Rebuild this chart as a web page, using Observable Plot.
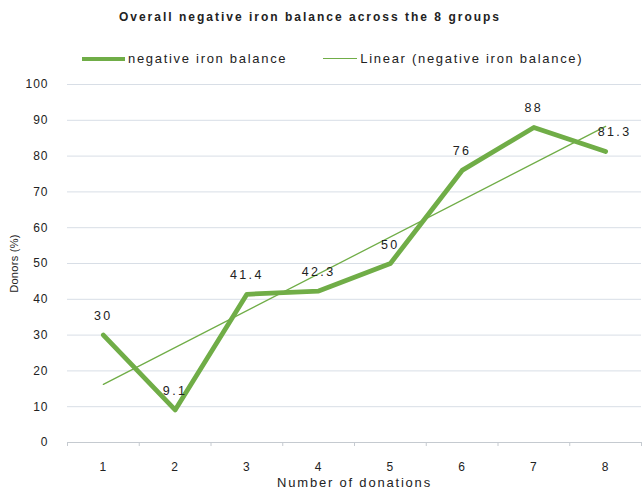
<!DOCTYPE html>
<html>
<head>
<meta charset="utf-8">
<script src="https://cdn.jsdelivr.net/npm/d3@7"></script>
<script src="https://cdn.jsdelivr.net/npm/@observablehq/plot@0.6"></script>
<style>
  html, body { margin: 0; padding: 0; background: #fff; }
  #wrap { position: relative; width: 643px; height: 493px; font-family: "Liberation Sans", Arial, sans-serif; color: #222; }
  #title { position: absolute; left: 0; top: 10px; width: 620px; text-align: center; font-weight: bold; font-size: 12px; letter-spacing: 2px; }
  #legend { position: absolute; left: 82px; top: 51px; display: flex; align-items: center; font-size: 13px; letter-spacing: 1.7px; white-space: nowrap; }
  .sw { display: inline-block; width: 43px; margin-right: 3px; }
  #chart { position: absolute; left: 0; top: 0; }
  g[aria-label="y-axis label"] text { font-size: 11px; letter-spacing: 0.3px; }
  g[aria-label="x-axis label"] text { font-size: 13px; letter-spacing: 1.8px; }
  g[aria-label="text"] text { font-size: 12.5px; letter-spacing: 2.4px; }
</style>
</head>
<body>
<div id="wrap">
  <div id="chart"></div>
  <div id="title">Overall negative iron balance across the 8 groups</div>
  <div id="legend">
    <span class="sw" style="border-top:4px solid #70ad47;"></span><span>negative iron balance</span>
    <span class="sw" style="border-top:1.3px solid #70ad47; margin-left:36px; width:34px;"></span><span>Linear (negative iron balance)</span>
  </div>
</div>
<script>
const groups = [1, 2, 3, 4, 5, 6, 7, 8];
const values = [30, 9.1, 41.4, 42.3, 50, 76, 88, 81.3];
const valueLabels = ["30", "9.1", "41.4", "42.3", "50", "76", "88", "81.3"];
const yTicks = [0, 10, 20, 30, 40, 50, 60, 70, 80, 90, 100];

const green = "#70ad47";
const data = groups.map((g, i) => ({group: g, value: values[i], label: valueLabels[i]}));
const bandEdges = d3.range(groups.length + 1).map(i => groups[0] - 0.5 + i);

const chart = Plot.plot({
  width: 643,
  height: 493,
  marginTop: 84,
  marginBottom: 51,
  marginLeft: 67,
  marginRight: 2,
  style: {fontFamily: "Liberation Sans, Arial, sans-serif", fontSize: "12px", letterSpacing: "1px", color: "#222", background: "transparent"},
  x: {domain: [bandEdges[0], bandEdges[bandEdges.length - 1]]},
  y: {domain: [0, 100]},
  marks: [
    Plot.gridY(yTicks, {stroke: "#d8dee6", strokeOpacity: 1}),
    Plot.ruleY([0], {stroke: "#c5cad0"}),
    Plot.axisY(yTicks, {tickSize: 0, tickPadding: 19, label: "Donors (%)", labelAnchor: "center", labelArrow: "none", labelOffset: 57}),
    Plot.axisX(bandEdges, {tickSize: 4, tickFormat: () => "", stroke: "#c5cad0", label: null}),
    Plot.axisX(groups, {tickSize: 0, tickPadding: 20, tickFormat: d => String(d), label: "Number of donations", labelAnchor: "center", labelArrow: "none", labelOffset: 44}),
    Plot.linearRegressionY(data, {x: "group", y: "value", stroke: green, strokeWidth: 1.3, ci: 0}),
    Plot.line(data, {x: "group", y: "value", stroke: green, strokeWidth: 4.8, strokeLinejoin: "round"}),
    Plot.text(data.slice(0, -1), {x: "group", y: "value", text: "label", dy: -19, fill: "#222"}),
    Plot.text(data.slice(-1), {x: "group", y: "value", text: "label", dy: -19, dx: 9, fill: "#222"})
  ]
});
document.getElementById("chart").appendChild(chart);
</script>
</body>
</html>
